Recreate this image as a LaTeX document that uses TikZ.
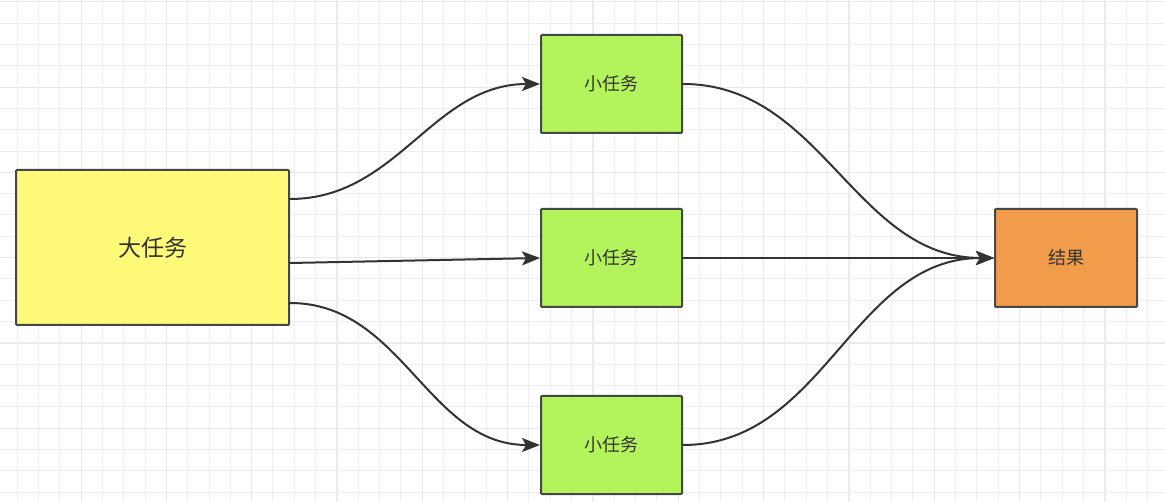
\documentclass[tikz,border=0pt]{standalone}
\usepackage{fontspec}
\newfontfamily\cjk{Noto Sans CJK SC}
\usepackage{xcolor}
\usetikzlibrary{arrows.meta, positioning}
\definecolor{gridLight}{HTML}{EFEFEF}
\definecolor{gridDark}{HTML}{E8E8E8}
\definecolor{bigYellow}{HTML}{FFFA78}
\definecolor{smallGreen}{HTML}{B3F35B}
\definecolor{resultOrange}{HTML}{F19C4A}
\definecolor{edgeGrey}{HTML}{333333}
\definecolor{borderGrey}{HTML}{474747}
\tikzset{
  taskbox/.style={draw=borderGrey, line width=2pt, rounded corners=1pt, inner sep=0pt,
    text=edgeGrey, font=\cjk\fontsize{18}{20}\selectfont},
  flow/.style={draw=edgeGrey, line width=2pt, line cap=round,
    -{Stealth[length=18pt, width=14pt, inset=4pt]}}
}

\begin{document}
\begin{tikzpicture}[x=1pt, y=-1pt]
  \useasboundingbox (0,0) rectangle (1165,502);
  \fill[white] (0,0) rectangle (1165,502);
  % faint grid
  \foreach \i in {0,...,55} {
    \draw[gridLight, line width=1pt] ({-4.3+21.33*\i},0) -- ({-4.3+21.33*\i},502);
  }
  \foreach \j in {0,...,24} {
    \draw[gridLight, line width=1pt] (0,{1.7+21.33*\j}) -- (1165,{1.7+21.33*\j});
  }
  \foreach \i in {0,...,14} {
    \draw[gridDark, line width=1pt] ({-4.3+85.33*\i},0) -- ({-4.3+85.33*\i},502);
  }
  \foreach \j in {0,...,6} {
    \draw[gridDark, line width=1pt] (0,{1.7+85.33*\j}) -- (1165,{1.7+85.33*\j});
  }

  % boxes
  \node[taskbox, fill=bigYellow, minimum width=273pt, minimum height=155pt,
    font=\cjk\fontsize{23}{26}\selectfont] (big) at (152.5,247.5) {大任务};
  \node[taskbox, fill=smallGreen, minimum width=141pt, minimum height=98pt] (sub1) at (611.5,84) {小任务};
  \node[taskbox, fill=smallGreen, minimum width=141pt, minimum height=98pt] (sub2) at (611.5,258) {小任务};
  \node[taskbox, fill=smallGreen, minimum width=141pt, minimum height=98pt] (sub3) at (611.5,445) {小任务};
  \node[taskbox, fill=resultOrange, minimum width=142pt, minimum height=98pt] (result) at (1066,258) {结果};

  % split
  \draw[flow] ([yshift=48.5pt]big.east) to[out=0, in=180] (sub1.west);
  \draw[flow] ([yshift=-15.5pt]big.east) -- (sub2.west);
  \draw[flow] ([yshift=-55.5pt]big.east) to[out=0, in=180] (sub3.west);
  % merge
  \draw[flow] (sub1.east) to[out=0, in=180] (result.west);
  \draw[flow] (sub2.east) -- (result.west);
  \draw[flow] (sub3.east) to[out=0, in=180] (result.west);
\end{tikzpicture}
\end{document}
